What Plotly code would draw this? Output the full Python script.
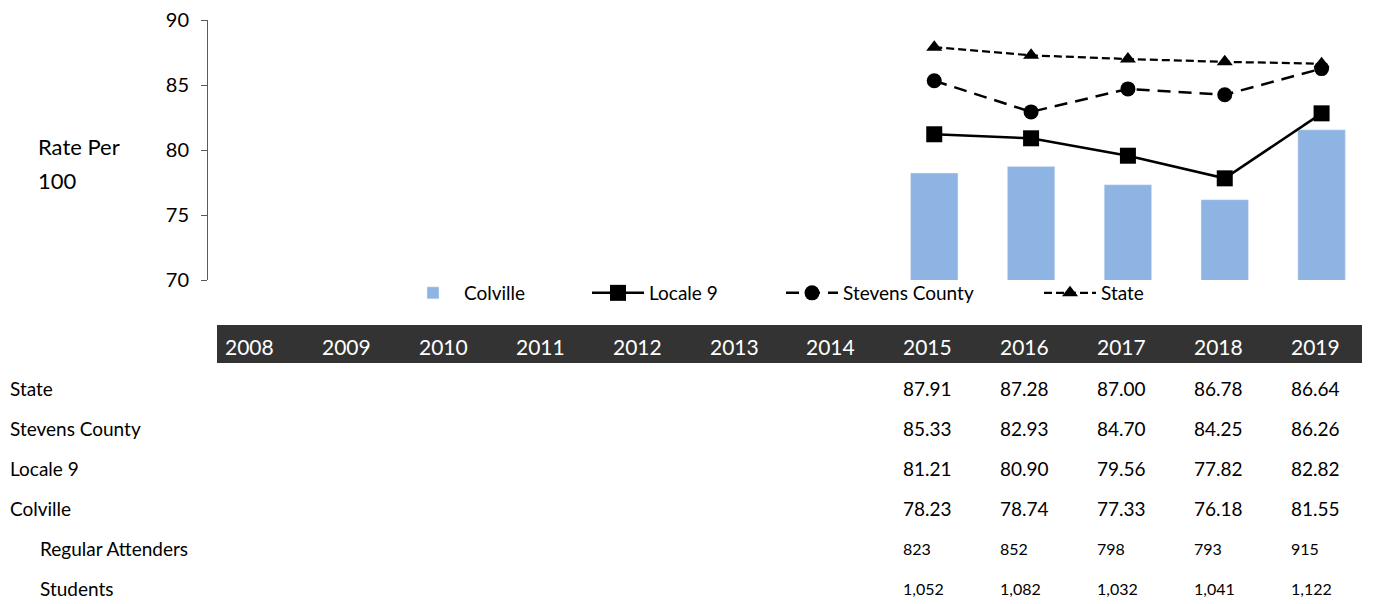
import plotly.graph_objects as go

years = [str(y) for y in range(2008, 2020)]
state = [None] * 7 + [87.91, 87.28, 87.00, 86.78, 86.64]
stevens = [None] * 7 + [85.33, 82.93, 84.70, 84.25, 86.26]
locale9 = [None] * 7 + [81.21, 80.90, 79.56, 77.82, 82.82]
colville = [None] * 7 + [78.23, 78.74, 77.33, 76.18, 81.55]
regular = [None] * 7 + [823, 852, 798, 793, 915]
students = [None] * 7 + [1052, 1082, 1032, 1041, 1122]

# page body adds an 8px offset; layout is designed in screen pixels
OFF = 8
W, H = 1387 - OFF, 604 - OFF
PLOT_L, PLOT_R, PLOT_T, PLOT_B = 208, 1370, 20, 280  # screen pixels
L = PLOT_L - OFF
R = W - (PLOT_R - OFF)
T = PLOT_T - OFF
B = H - (PLOT_B - OFF)
PW, PH = PLOT_R - PLOT_L, PLOT_B - PLOT_T
FONT = "Lato"


def py(p):
    return (PLOT_B - p) / PH


def px(p):
    return (p - PLOT_L) / PW


fig = go.Figure()
fig.add_trace(go.Bar(x=years, y=colville, name="Colville", marker_color="#8EB4E3",
                     width=0.49, legend="legend"))
fig.add_trace(go.Scatter(x=years, y=state, name="State", mode="lines+markers",
                         line=dict(color="black", width=2.25, dash="8px,4px"),
                         marker=dict(symbol="triangle-up", size=14, color="black"),
                         legend="legend4"))
fig.add_trace(go.Scatter(x=years, y=stevens, name="Stevens County", mode="lines+markers",
                         line=dict(color="black", width=2.5, dash="13px,8px"),
                         marker=dict(symbol="circle", size=15, color="black"),
                         legend="legend3"))
fig.add_trace(go.Scatter(x=years, y=locale9, name="Locale 9", mode="lines+markers",
                         line=dict(color="black", width=2.5),
                         marker=dict(symbol="square", size=16, color="black"),
                         legend="legend2"))

leg_common = dict(orientation="h", yanchor="middle", xanchor="left", y=py(293),
                  bgcolor="rgba(0,0,0,0)", font=dict(family=FONT, size=19, color="black"),
                  itemwidth=52)
fig.update_layout(
    legend=dict(x=px(402), **leg_common),
    legend2=dict(x=px(587), **leg_common),
    legend3=dict(x=px(781), **leg_common),
    legend4=dict(x=px(1039), **leg_common),
)

annotations = []
# y-axis title
annotations.append(dict(text="Rate Per", xref="paper", yref="paper", x=px(36), y=py(146),
                        xanchor="left", yanchor="middle", showarrow=False,
                        font=dict(family=FONT, size=22, color="black")))
annotations.append(dict(text="100", xref="paper", yref="paper", x=px(36), y=py(180),
                        xanchor="left", yanchor="middle", showarrow=False,
                        font=dict(family=FONT, size=22, color="black")))

# table header
for i, yr in enumerate(years):
    annotations.append(dict(text=yr, xref="x", yref="paper", x=i, y=py(346),
                            xanchor="left", yanchor="middle", xshift=-33, showarrow=False,
                            font=dict(family=FONT, size=21, color="white")))

rows = [
    ("State", state, "{:.2f}", 388, 8, 19),
    ("Stevens County", stevens, "{:.2f}", 428, 8, 19),
    ("Locale 9", locale9, "{:.2f}", 468, 8, 19),
    ("Colville", colville, "{:.2f}", 508, 8, 19),
    ("Regular Attenders", regular, "{:,}", 548, 38, 16),
    ("Students", students, "{:,}", 588, 38, 16),
]
for label, vals, fmt, ypix, xpix, vsize in rows:
    annotations.append(dict(text=label, xref="paper", yref="paper", x=px(xpix), y=py(ypix),
                            xanchor="left", yanchor="middle", showarrow=False,
                            font=dict(family=FONT, size=19, color="black")))
    for i, v in enumerate(vals):
        if v is None:
            continue
        annotations.append(dict(text=fmt.format(v), xref="x", yref="paper", x=i, y=py(ypix),
                                xanchor="left", yanchor="middle", xshift=-33, showarrow=False,
                                font=dict(family=FONT, size=vsize, color="black")))

shapes = [dict(type="rect", xref="paper", yref="paper", x0=px(217), x1=px(1362),
               y0=py(363), y1=py(325), fillcolor="#333333", line=dict(width=0), layer="below")]

fig.update_layout(
    width=W, height=H,
    margin=dict(l=L, r=R, t=T, b=B, pad=0, autoexpand=False),
    paper_bgcolor="white", plot_bgcolor="white",
    showlegend=True,
    annotations=annotations,
    shapes=shapes,
    barmode="overlay",
    xaxis=dict(type="category", categoryorder="array", categoryarray=years,
               range=[-0.5, 11.5], showticklabels=False, showline=False, showgrid=False,
               ticks="", zeroline=False, fixedrange=True),
    yaxis=dict(range=[70, 90], tickvals=[70, 75, 80, 85, 90], showline=True,
               linecolor="#595959", linewidth=1, ticks="outside", ticklen=6,
               tickcolor="#595959", showgrid=False, zeroline=False,
               ticklabelstandoff=8, ticklabeloverflow="allow",
               tickfont=dict(family=FONT, size=20, color="black")),
    font=dict(family=FONT),
)

fig.write_html("out.html")
